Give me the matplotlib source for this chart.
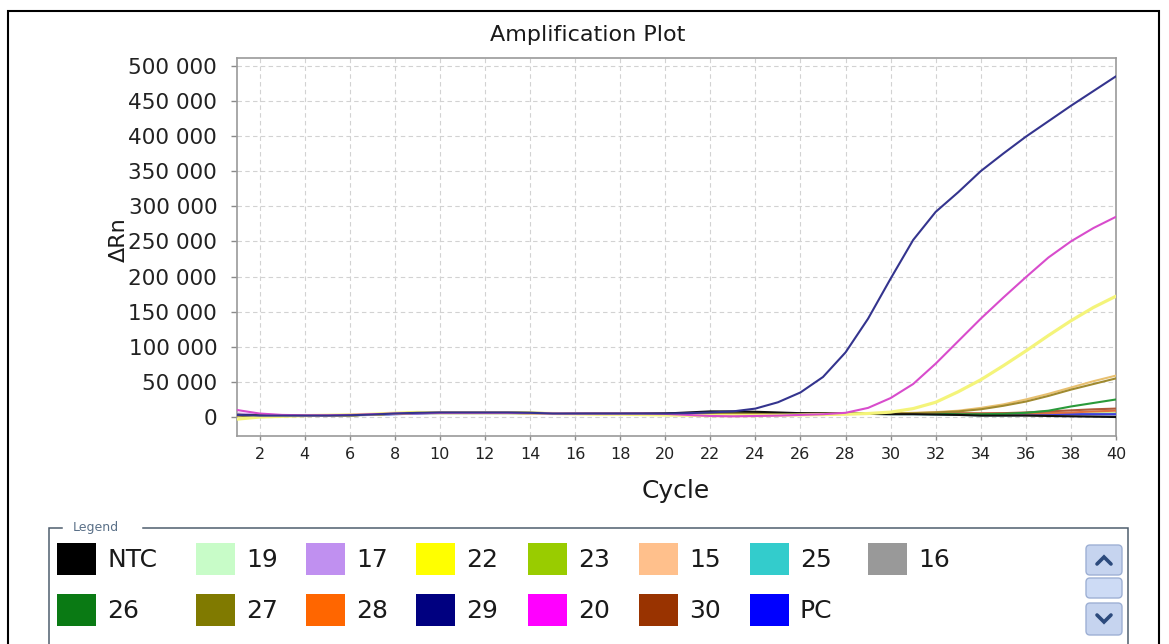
import numpy as np
import matplotlib
matplotlib.use("Agg")
import matplotlib.pyplot as plt
from matplotlib.patches import Rectangle, FancyBboxPatch
from matplotlib.ticker import FuncFormatter, MultipleLocator

plt.rcParams['font.family'] = ['DejaVu Sans']

W, H = 1169, 644

cycles = list(range(1, 41))

# Delta Rn per cycle, in thousands
dRn_NTC = [3, 2, 2, 2, 2, 2.5, 3.5, 5, 6.5, 6.5, 6.5, 6.5, 6.5, 6, 5.5, 5, 4.5, 4.5, 4.5, 5,
           6.5, 8, 8, 7.5, 6.5, 5.5, 5, 5, 4.5, 4, 4, 3.5, 3, 2, 2, 2, 1.5, 1, 0.5, 0]
dRn_19 = [4, 3, 2.5, 2, 2, 2.5, 3, 4, 5, 5.5, 5.5, 5.5, 5.5, 5, 4.5, 4.5, 4.5, 4.5, 4.5, 4.5,
          4.5, 5, 5, 5, 5, 5, 5, 5, 5, 5, 5, 5, 5, 4.5, 4.5, 4.5, 4.5, 4.5, 4.5, 4.5]
dRn_17 = [5, 3.5, 2.5, 2, 2, 2.5, 3.5, 4.5, 5.5, 6, 6, 6, 6, 5.5, 5, 5, 5, 5, 5, 4.5,
          4, 3.5, 3.5, 4, 4, 4.5, 4.5, 5, 5, 5, 5, 5, 4.5, 4.5, 4.5, 4.5, 4.5, 4, 4, 4]
dRn_22 = [-3, 0, 1, 2, 2.5, 3, 4, 5.5, 6.5, 6, 6, 6, 6, 5.5, 5, 4.5, 4, 4, 3.5, 3,
          2.5, 2, 2, 2, 2.5, 3, 3.5, 4, 5, 7, 12, 21, 36, 53, 73, 94, 116, 137, 156, 172]
dRn_23 = [3, 2.5, 2, 2, 2, 2.5, 3.5, 5, 6.5, 6.5, 6.5, 6.5, 6.5, 6, 5, 5, 5, 5, 5, 5,
          5, 5, 5, 5, 5, 5, 5, 5, 5, 5, 5, 5, 5, 4.5, 4.5, 4.5, 4.5, 4.5, 5, 5]
dRn_15 = [2, 1.5, 1.5, 1.5, 2, 2.5, 3.5, 5, 6, 6, 6, 6, 6, 5.5, 5, 4.5, 4.5, 4.5, 4.5, 4.5,
          4.5, 4.5, 4.5, 4.5, 4.5, 4.5, 4.5, 4.5, 4.5, 5, 6, 7, 9, 13, 18, 25, 33, 42, 51, 59]
dRn_25 = [3, 2.5, 2, 2, 2, 2.5, 3.5, 4.5, 5.5, 6, 6, 6, 6, 5.5, 5, 5, 5, 5, 5, 5,
          5, 5, 5, 5, 5, 5, 4.5, 4.5, 4.5, 4, 4, 3.5, 3, 2.5, 2.5, 3, 3.5, 4, 4, 4]
dRn_16 = [3, 2.5, 2, 2, 2, 2.5, 3.5, 4.5, 5.5, 6, 6, 6, 6, 5.5, 5, 5, 5, 5, 5, 5,
          5, 5, 5, 5, 5, 5, 5, 5, 5, 5, 4.5, 4.5, 4.5, 4, 4, 4, 4, 3.5, 3.5, 3.5]
dRn_26 = [3, 2.5, 2, 2, 2, 2.5, 3.5, 5, 6, 6, 6, 6, 6, 5.5, 5, 5, 5, 5, 5, 5,
          5, 5, 5, 5, 5, 5, 5, 5, 5, 4.5, 4.5, 4.5, 4, 4, 4.5, 6, 9, 15, 20, 25]
dRn_27 = [2, 1.5, 1.5, 1.5, 2, 2.5, 3.5, 5, 6.5, 6.5, 6.5, 6.5, 6.5, 6, 5.5, 5, 5, 5, 5, 5,
          5, 5, 5, 5, 5, 5, 5, 5, 5, 5, 5.5, 6.5, 8, 11, 16, 22, 30, 39, 47, 55]
dRn_28 = [3, 2.5, 2, 2, 2, 2.5, 3.5, 5, 6, 6, 6, 6, 6, 5.5, 5, 5, 5, 5, 5, 5,
          5, 5, 5, 5, 5, 5, 5, 5, 5, 5, 5, 5, 5, 5, 5, 5, 5.5, 6.5, 8, 9]
dRn_29 = [3, 2, 2, 2, 2, 2.5, 3.5, 5, 6, 6.5, 6.5, 6.5, 6.5, 6, 5, 5, 5, 5, 5, 5,
          5.5, 6.5, 8, 12, 21, 35, 57, 92, 140, 197, 252, 292, 320, 350, 375, 399, 421, 443, 464, 485]
dRn_20 = [10, 5, 3, 2.5, 2.5, 3, 4, 5, 5.5, 6, 6, 6, 6, 5.5, 5, 5, 5, 5, 5, 4.5,
          3, 1.5, 1, 1.5, 2, 3, 4, 6, 13, 27, 47, 76, 108, 140, 170, 199, 227, 250, 269, 285]
dRn_30 = [3, 2.5, 2, 2, 2, 2.5, 3.5, 5, 6, 6, 6, 6, 6, 5.5, 5, 5, 5, 5, 5, 5,
          5, 5, 5, 5, 5, 5, 5, 5, 5, 5, 5, 5, 5, 5, 5.5, 6.5, 8, 9.5, 11, 12]
dRn_PC = [3, 2.5, 2, 2, 2, 2.5, 3, 4, 5, 5.5, 5.5, 5.5, 5.5, 5, 4.5, 4.5, 4.5, 4.5, 4.5, 4.5,
          4.5, 4.5, 4.5, 4.5, 4.5, 4.5, 4.5, 4.5, 4.5, 4.5, 4.5, 4.5, 4.5, 4, 4, 4, 4, 4, 4, 4]

samples = ["NTC", "19", "17", "22", "23", "15", "25", "16",
           "26", "27", "28", "29", "20", "30", "PC"]
series = {"NTC": dRn_NTC, "19": dRn_19, "17": dRn_17, "22": dRn_22, "23": dRn_23,
          "15": dRn_15, "25": dRn_25, "16": dRn_16, "26": dRn_26, "27": dRn_27,
          "28": dRn_28, "29": dRn_29, "20": dRn_20, "30": dRn_30, "PC": dRn_PC}

# swatch colours in the legend box
swatch = {"NTC": "#000000", "19": "#c8fcc8", "17": "#c090f0", "22": "#ffff00",
          "23": "#99cc00", "15": "#ffc08c", "25": "#33cccc", "16": "#999999",
          "26": "#0a7a14", "27": "#807a00", "28": "#ff6600", "29": "#000080",
          "20": "#ff00ff", "30": "#993300", "PC": "#0000ff"}
# trace colours on the plot (thin anti-aliased lines read lighter)
trace = {"NTC": "#101010", "19": "#c8f4c8", "17": "#c8a0ee", "22": "#f4f47a",
         "23": "#b0d040", "15": "#e8c070", "25": "#50c8c8", "16": "#a8a8a8",
         "26": "#2a9a3a", "27": "#a08a30", "28": "#e07040", "29": "#34348e",
         "20": "#d84ccc", "30": "#b05a3a", "PC": "#4040e0"}
draw_order = ["19", "17", "23", "25", "16", "PC", "28", "30", "26", "15", "27",
              "NTC", "22", "20", "29"]

fig = plt.figure(figsize=(W / 100, H / 100), dpi=100)
fig.patch.set_facecolor("white")

ax = fig.add_axes([237 / W, 1 - 436 / H, (1116 - 237) / W, (436 - 58) / H])
x = np.array(cycles)
for name in draw_order:
    y = np.array(series[name], dtype=float) * 1000
    lw = 2.3 if name == "22" else 1.5
    ax.plot(x, y, color=trace[name], lw=lw, solid_capstyle="round", zorder=3)

ax.set_xlim(1, 40)
ax.set_ylim(-27000, 511000)
ax.xaxis.set_major_locator(MultipleLocator(2))
ax.set_xticks(np.arange(2, 41, 2))
ax.set_yticks(np.arange(0, 500001, 50000))
ax.yaxis.set_major_formatter(FuncFormatter(lambda v, p: f"{int(v):,}".replace(",", " ")))
ax.grid(True, color="#d2d2d2", linestyle=(0, (4, 3)), linewidth=0.8, zorder=0)
for s in ax.spines.values():
    s.set_color("#9a9a9a")
    s.set_linewidth(1.2)
ax.tick_params(axis="y", direction="out", length=4.3, width=1, color="#8a8a8a",
               pad=10, labelsize=15.5, labelcolor="#222222")
ax.tick_params(axis="x", direction="out", length=3, width=1, color="#8a8a8a",
               pad=5, labelsize=11.5, labelcolor="#222222")

fig.text(588 / W, 1 - 35 / H, "Amplification Plot", ha="center", va="center",
         fontsize=16, color="#1a1a1a")
fig.text(676 / W, 1 - 491 / H, "Cycle", ha="center", va="center",
         fontsize=18, color="#1a1a1a")
fig.text(119 / W, 1 - 240 / H, "ΔRn", ha="center", va="center", rotation=90,
         fontsize=16, color="#1a1a1a")

# overlay in pixel units for the frame and legend panel
ov = fig.add_axes([0, 0, 1, 1], facecolor="none")
ov.set_xlim(0, W)
ov.set_ylim(H, 0)
ov.axis("off")

ov.plot([8, 8, 1159, 1159], [660, 11, 11, 660], color="black", lw=1.5,
        solid_joinstyle="miter", clip_on=False)

frame_c = "#4e5e6e"
ov.plot([49, 49, 62], [660, 528, 528], color=frame_c, lw=1.1, solid_joinstyle="miter")
ov.plot([143, 1128, 1128], [528, 528, 660], color=frame_c, lw=1.1, solid_joinstyle="miter")
ov.text(73, 527, "Legend", ha="left", va="center", fontsize=9, color="#5a7088")

col_x = [57, 196, 306, 416, 528, 639, 750, 868]
row_y = [559, 610]
sw_w, sw_h = 39, 32
for i, name in enumerate(samples):
    r, c = divmod(i, 8)
    x0, yc = col_x[c], row_y[r]
    ov.add_patch(Rectangle((x0, yc - sw_h / 2), sw_w, sw_h, facecolor=swatch[name],
                           edgecolor="none"))
    ov.text(x0 + sw_w + 11, yc + 1, name, ha="left", va="center", fontsize=18,
            color="#1a1a1a")

# scroll buttons
btn_face, btn_edge, arrow_c = "#c6d4ef", "#9eb0d4", "#2c4a7c"
ov.add_patch(FancyBboxPatch((1086, 545), 36, 30, boxstyle="round,pad=0,rounding_size=4",
                            facecolor=btn_face, edgecolor=btn_edge, lw=1))
ov.add_patch(FancyBboxPatch((1086, 578), 36, 20, boxstyle="round,pad=0,rounding_size=4",
                            facecolor="#cddbf5", edgecolor=btn_edge, lw=1))
ov.add_patch(FancyBboxPatch((1086, 603), 36, 32, boxstyle="round,pad=0,rounding_size=4",
                            facecolor=btn_face, edgecolor=btn_edge, lw=1))
ov.plot([1097, 1104, 1111], [564, 557, 564], color=arrow_c, lw=2.6,
        solid_capstyle="round", solid_joinstyle="miter")
ov.plot([1097, 1104, 1111], [615, 622, 615], color=arrow_c, lw=2.6,
        solid_capstyle="round", solid_joinstyle="miter")

fig.savefig("out.png", dpi=100, facecolor="white")
